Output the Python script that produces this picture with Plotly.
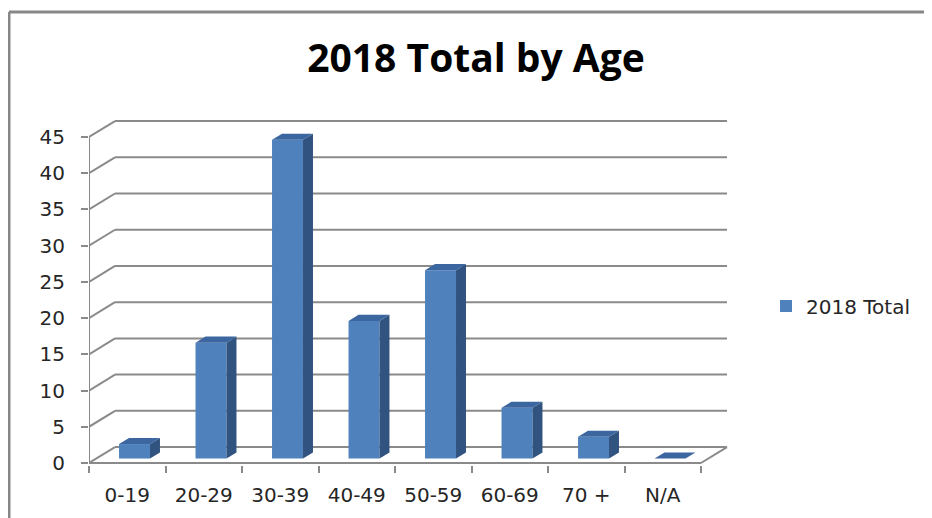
import plotly.graph_objects as go

# ---- data ----
categories = ["0-19", "20-29", "30-39", "40-49", "50-59", "60-69", "70 +", "N/A"]
values = [2, 16, 44, 19, 26, 7, 3, 0]
series_name = "2018 Total"
y_ticks = [0, 5, 10, 15, 20, 25, 30, 35, 40, 45]
title_text = "2018 Total by Age"

# ---- 3D-look geometry (in axis units) ----
DX, DY = 0.34, 2.2          # depth of the floor/walls
F_FRONT = 0.28              # depth fraction of bar front face
DDX, DDY = 0.13, 0.84       # bar depth
BAR_W = 0.405
GRID_COLOR = "#8a8a8a"
PX_PER_UNIT = 7.244

pos = list(range(len(categories)))
fx = [p + F_FRONT * DX for p in pos]  # front face centre
base = F_FRONT * DY

fig = go.Figure()

# front faces
fig.add_trace(go.Bar(
    x=fx, y=values, base=base, width=BAR_W, name=series_name,
    marker=dict(color="#4F81BD", line=dict(width=0)),
    showlegend=True, hoverinfo="skip"))

# side and top faces
sx, sy = [], []
tx, ty = [], []
for c, v in zip(fx, values):
    xl, xr = c - BAR_W / 2, c + BAR_W / 2
    top = base + v
    sx += [xr, xr + DDX, xr + DDX, xr, xr, None]
    sy += [base, base + DDY, top + DDY, top, base, None]
    tx += [xl, xr, xr + DDX, xl + DDX, xl, None]
    ty += [top, top, top + DDY, top + DDY, top, None]
fig.add_trace(go.Scatter(x=sx, y=sy, fill="toself", mode="lines",
                         fillcolor="#31537F", line=dict(width=0, color="#31537F"),
                         showlegend=False, hoverinfo="skip"))
fig.add_trace(go.Scatter(x=tx, y=ty, fill="toself", mode="lines",
                         fillcolor="#3B66A0", line=dict(width=0, color="#3B66A0"),
                         showlegend=False, hoverinfo="skip"))

# walls / grid as shapes below traces
shapes = []
x0, x1 = -0.5, len(categories) - 0.5
line = dict(color=GRID_COLOR, width=2)
for v in y_ticks:
    shapes.append(dict(type="line", xref="x", yref="y", x0=x0 + DX, x1=x1 + DX,
                       y0=v + DY, y1=v + DY, line=line, layer="below"))
    shapes.append(dict(type="line", xref="x", yref="y", x0=x0, x1=x0 + DX,
                       y0=v, y1=v + DY, line=line, layer="below"))
shapes.append(dict(type="line", xref="x", yref="y", x0=x0, x1=x1, y0=0, y1=0,
                   line=line, layer="below"))
shapes.append(dict(type="line", xref="x", yref="y", x0=x1, x1=x1 + DX, y0=0, y1=DY,
                   line=line, layer="below"))
shapes.append(dict(type="line", xref="x", yref="y", x0=x0, x1=x0, y0=0, y1=y_ticks[-1],
                   line=line, layer="below"))

# page has an 8px body margin; figure is sized/positioned to compensate
OFF = 8
W, H = 932 - OFF, 518 - OFF
L, R, T, B = 81, 204, 112, 53
pw, ph = W - L - R, H - T - B
def px(X):
    return (X - OFF - L) / pw
def py(Y):
    return (H - B - (Y - OFF)) / ph
border = dict(color="#878787", width=3)
shapes.append(dict(type="line", xref="paper", yref="paper", x0=px(9), x1=px(960),
                   y0=py(12), y1=py(12), line=border))
shapes.append(dict(type="line", xref="paper", yref="paper", x0=px(9), x1=px(9),
                   y0=py(12), y1=py(540), line=border))

fig.update_layout(
    width=W, height=H,
    margin=dict(l=L, r=R, t=T, b=B),
    paper_bgcolor="white", plot_bgcolor="white",
    shapes=shapes,
    title=dict(text=title_text, x=(476 - OFF) / W, xanchor="center", y=1 - (58 - OFF) / H,
               yanchor="middle", font=dict(family="Open Sans", size=39, color="#000000",
                                           weight="bold")),
    showlegend=True,
    legend=dict(x=px(766), xanchor="left", y=py(306), yanchor="middle",
                font=dict(family="DejaVu Sans", size=20, color="#262626"),
                bgcolor="rgba(0,0,0,0)"),
    font=dict(family="DejaVu Sans", size=20, color="#262626"),
)
fig.update_xaxes(
    range=[x0, x1 + DX + 0.013], tickvals=pos, ticktext=categories,
    ticks="", showgrid=False, zeroline=False, showline=False,
    ticklabelstandoff=16,
    minor=dict(tickvals=[p - 0.5 for p in pos] + [x1], ticks="outside", ticklen=7,
               tickcolor=GRID_COLOR, tickwidth=2, showgrid=False),
    tickfont=dict(family="DejaVu Sans", size=20, color="#262626"),
)
fig.update_yaxes(
    range=[-2 / PX_PER_UNIT, -2 / PX_PER_UNIT + ph / PX_PER_UNIT], tickvals=y_ticks,
    ticks="outside", ticklen=7, tickcolor=GRID_COLOR, tickwidth=2,
    showgrid=False, zeroline=False, showline=False, ticklabelstandoff=12,
    tickfont=dict(family="DejaVu Sans", size=20, color="#262626"),
)

fig.write_html("out.html")
